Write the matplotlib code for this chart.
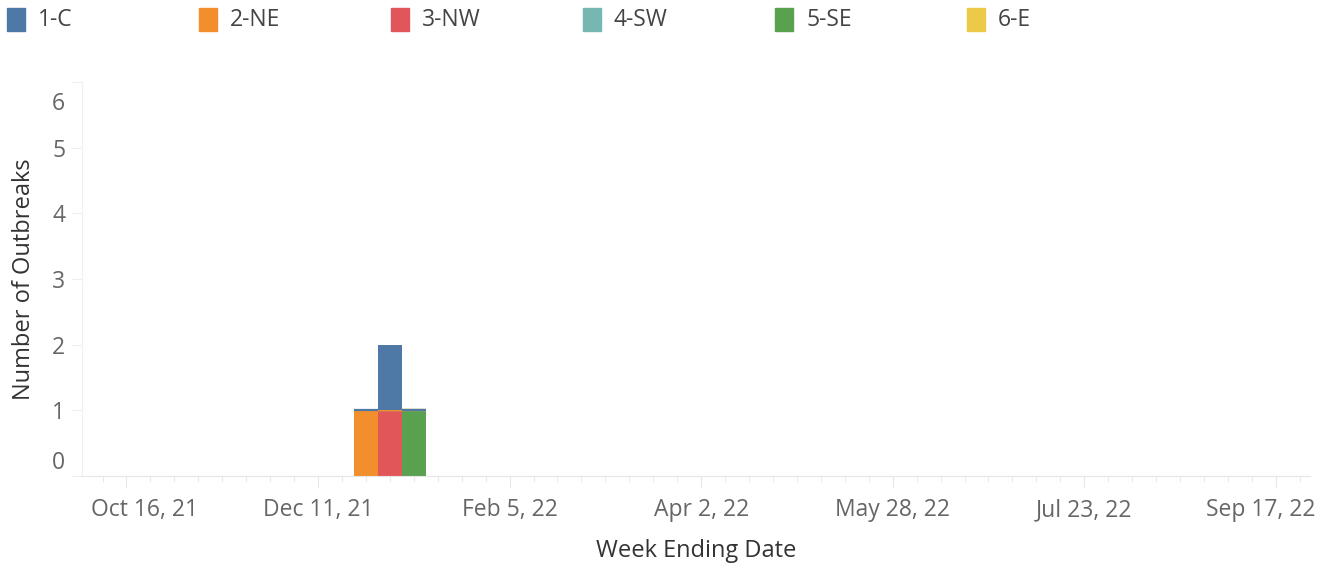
import matplotlib
matplotlib.use("Agg")
import matplotlib.pyplot as plt
import matplotlib.dates as mdates
import matplotlib.transforms as mtrans
from matplotlib.patches import Rectangle
import numpy as np
import datetime as dt

plt.rcParams['font.family'] = ['Open Sans', 'DejaVu Sans']

# week ending dates that have outbreaks
weeks = ["2021-12-25", "2022-01-01", "2022-01-08"]
regions = ["1-C", "2-NE", "3-NW", "4-SW", "5-SE", "6-E"]
colors = ["#4e79a7", "#f28e2b", "#e15759", "#76b7b2", "#59a14f", "#edc948"]
c_vals = [0, 1, 0]
ne_vals = [1, 0, 0]
nw_vals = [0, 1, 0]
sw_vals = [0, 0, 0]
se_vals = [0, 0, 1]
e_vals = [0, 0, 0]
tick_dates = ["2021-10-16", "2021-12-11", "2022-02-05", "2022-04-02",
              "2022-05-28", "2022-07-23", "2022-09-17"]
tick_labels = ["Oct 16, 21", "Dec 11, 21", "Feb 5, 22", "Apr 2, 22",
               "May 28, 22", "Jul 23, 22", "Sep 17, 22"]

fig = plt.figure(figsize=(13.3, 5.65), dpi=100)
ax = fig.add_axes([82/1330, 1-476/565, (1310-82)/1330, (476-82)/565])

x = mdates.date2num([dt.date.fromisoformat(w) for w in weeks])
series = {"3-NW": nw_vals, "5-SE": se_vals, "4-SW": sw_vals,
          "6-E": e_vals, "2-NE": ne_vals, "1-C": c_vals}
bottom = np.zeros(len(x))
for name in ["3-NW", "5-SE", "4-SW", "6-E", "2-NE", "1-C"]:
    vals = np.array(series[name], dtype=float)
    col = colors[regions.index(name)]
    ax.bar(x, vals, width=7, bottom=bottom, color=col, linewidth=0)
    # zero-value marks stacked on top show up as a thin strip
    m = (vals == 0) & (bottom > 0)
    if m.any():
        ax.bar(x[m], vals[m], width=7, bottom=bottom[m], color=col,
               edgecolor=col, linewidth=1.6)
    bottom += vals

ax.set_xlim(mdates.date2num(dt.date(2021, 10, 3)), mdates.date2num(dt.date(2022, 9, 27)))
ax.set_ylim(0, 6)

tx = mdates.date2num([dt.date.fromisoformat(d) for d in tick_dates])
ax.set_xticks(tx)
ax.set_xticklabels(tick_labels, fontsize=16.5, color="#666666")
ax.xaxis.set_minor_locator(mdates.DayLocator(bymonthday=range(1, 32), interval=7))
ax.tick_params(axis='x', which='major', length=8, color="#e6e6e6", pad=8)
ax.tick_params(axis='x', which='minor', length=4, color="#e6e6e6")

ax.set_yticks(range(7))
ax.set_yticklabels([str(i) for i in range(7)], fontsize=16.5, color="#666666")
ax.tick_params(axis='y', length=8, color="#eeeeee", pad=4)

fig.canvas.draw()
xl = ax.get_xticklabels()
xl[0].set_transform(xl[0].get_transform() + mtrans.ScaledTranslation(18/100, 0, fig.dpi_scale_trans))
xl[-1].set_transform(xl[-1].get_transform() + mtrans.ScaledTranslation(-15/100, 0, fig.dpi_scale_trans))
yl = ax.get_yticklabels()
yl[0].set_transform(yl[0].get_transform() + mtrans.ScaledTranslation(0, 16/100, fig.dpi_scale_trans))
yl[-1].set_transform(yl[-1].get_transform() + mtrans.ScaledTranslation(0, -19/100, fig.dpi_scale_trans))

for s in ["top", "right"]:
    ax.spines[s].set_visible(False)
ax.spines["left"].set_color("#f0f0f0")
ax.spines["bottom"].set_color("#e6e6e6")

ax.set_xlabel("Week Ending Date", fontsize=17, color="#333333", labelpad=12)
ax.set_ylabel("Number of Outbreaks", fontsize=17, color="#333333", labelpad=12)

# legend across the top
for i, (name, col) in enumerate(zip(regions, colors)):
    lx = (7 + 192*i) / 1330
    fig.patches.append(Rectangle((lx, 1-31/565), 18/1330, 23/565,
                                 transform=fig.transFigure, color=col))
    fig.text(lx + 31/1330, 1-20/565, name, fontsize=16.5, color="#444444",
             va='center', ha='left')

fig.savefig("out.png", dpi=100)
